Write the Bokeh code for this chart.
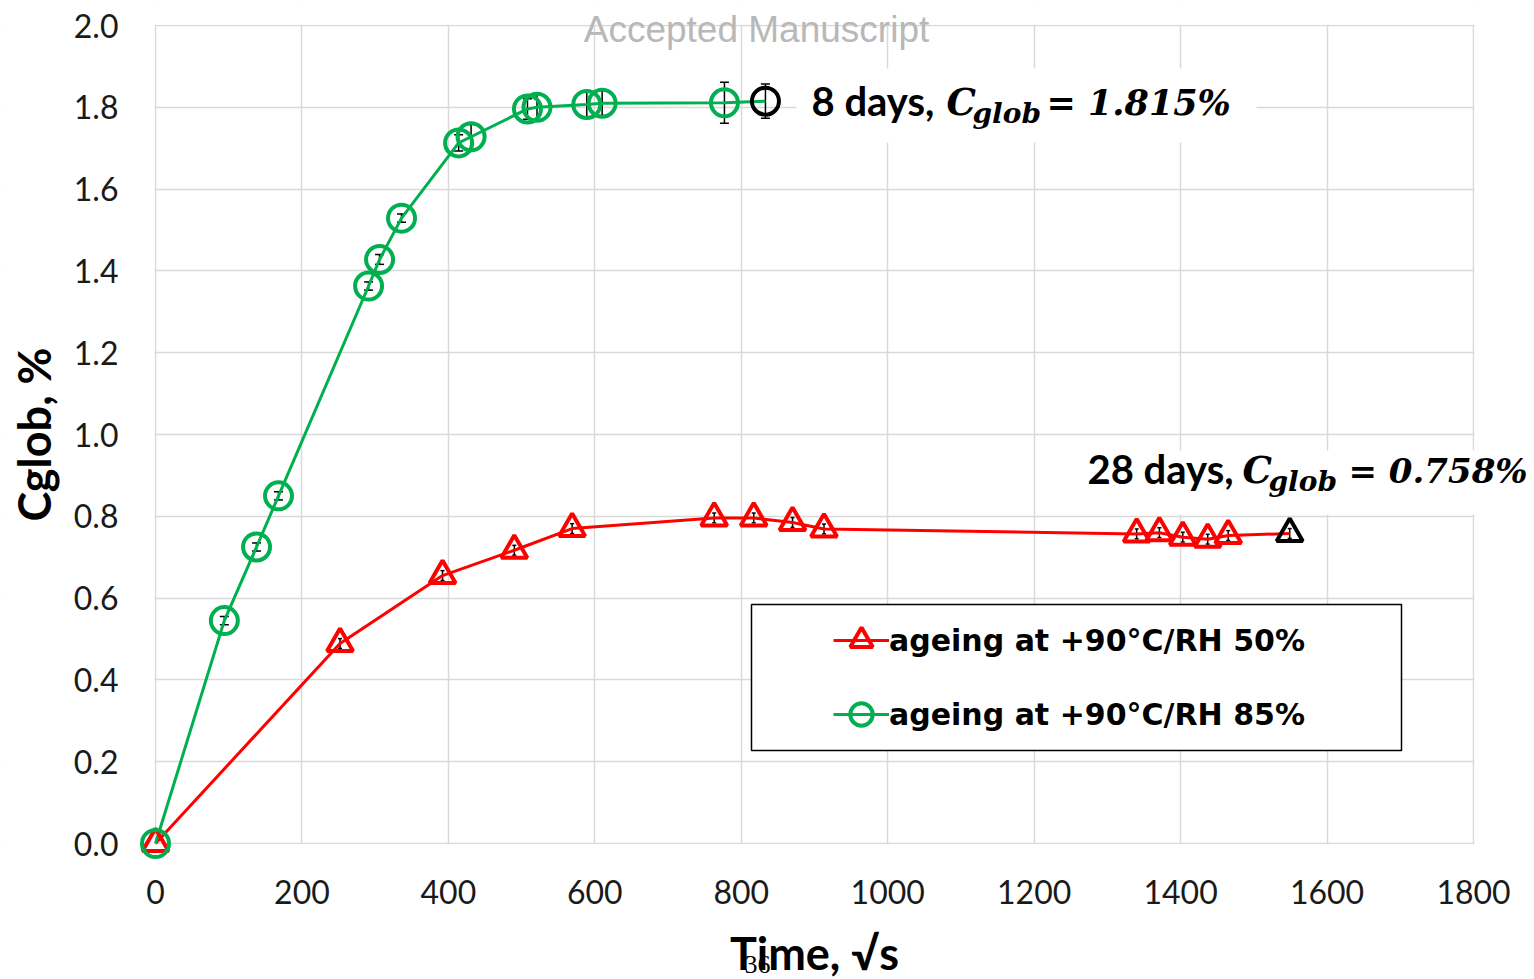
from bokeh.plotting import figure
from bokeh.models import (ColumnDataSource, Whisker, TeeHead, Legend, LegendItem,
                          Label, FixedTicker, Range1d)
from bokeh.embed import file_html
from bokeh.resources import INLINE

# ---------------- data ----------------
green_x = [0, 94, 138, 168, 291, 306, 336, 414, 431, 508, 521, 589, 610, 777]
green_y = [0.0, 0.545, 0.725, 0.850, 1.363, 1.428, 1.529, 1.713, 1.728, 1.796, 1.800, 1.807, 1.810, 1.811]
green_err = [0.0, 0.010, 0.010, 0.010, 0.010, 0.012, 0.010, 0.020, 0.030, 0.025, 0.034, 0.030, 0.030, 0.050]
green_final_x = [833]
green_final_y = [1.815]
green_final_err = [0.042]

red_x = [0, 252, 392, 490, 569, 763, 817, 870, 913, 1340, 1371, 1403, 1437, 1465]
red_y = [0.0, 0.489, 0.655, 0.717, 0.770, 0.796, 0.796, 0.785, 0.769, 0.757, 0.760, 0.749, 0.744, 0.753]
red_err = [0.0, 0.012, 0.012, 0.012, 0.012, 0.012, 0.012, 0.012, 0.012, 0.012, 0.012, 0.012, 0.012, 0.012]
red_final_x = [1549]
red_final_y = [0.758]
red_final_err = [0.012]

x_ticks = [0, 200, 400, 600, 800, 1000, 1200, 1400, 1600, 1800]
x_tick_labels = ["0", "200", "400", "600", "800", "1000", "1200", "1400", "1600", "1800"]
y_ticks = [0.0, 0.2, 0.4, 0.6, 0.8, 1.0, 1.2, 1.4, 1.6, 1.8, 2.0]
y_tick_labels = ["0.0", "0.2", "0.4", "0.6", "0.8", "1.0", "1.2", "1.4", "1.6", "1.8", "2.0"]

legend_labels = ["ageing at +90°C/RH 50%", "ageing at +90°C/RH 85%"]

# ---------------- layout ----------------
W, H = 1534, 979
FL, FR, FT, FB = 155, 1473, 25, 843      # plot area in pixels
X0, X1, Y0, Y1 = 0, 1800, 0.0, 2.0       # plot area in data units


def dx(px):
    return X0 + (px - FL) * (X1 - X0) / (FR - FL)


def dy(py):
    return Y0 + (FB - py) * (Y1 - Y0) / (FB - FT)


GREEN = "#00B050"
RED = "#FF0000"
GRID = "#d9d9d9"

# the frame covers the whole canvas; axes are drawn at fixed locations
p = figure(width=W, height=H, x_range=Range1d(dx(0), dx(W)), y_range=Range1d(dy(H), dy(0)),
           output_backend="svg", toolbar_location=None,
           min_border=0, min_border_left=0, min_border_right=0,
           min_border_top=0, min_border_bottom=0)
p.outline_line_color = None
p.background_fill_color = "white"
p.border_fill_color = "white"

for g in (p.xgrid, p.ygrid):
    g.grid_line_color = GRID
    g.grid_line_width = 1.5
p.xgrid.ticker = FixedTicker(ticks=x_ticks)
p.ygrid.ticker = FixedTicker(ticks=y_ticks)

p.xaxis.ticker = FixedTicker(ticks=x_ticks)
p.yaxis.ticker = FixedTicker(ticks=y_ticks)
p.xaxis.major_label_overrides = {t: s for t, s in zip(x_ticks, x_tick_labels)}
p.yaxis.major_label_overrides = {t: s for t, s in zip(y_ticks, y_tick_labels)}
p.xaxis.fixed_location = Y0
p.yaxis.fixed_location = X0
p.xaxis.bounds = (X0, X1)
p.yaxis.bounds = (Y0, Y1)

for ax in (p.xaxis[0], p.yaxis[0]):
    ax.axis_line_color = None
    ax.major_tick_line_color = None
    ax.minor_tick_line_color = None
    ax.major_label_text_font = "Lato"
    ax.major_label_text_font_size = "32px"
    ax.major_label_text_color = "#1a1a1a"
    ax.axis_label_text_font = "Lato"
    ax.axis_label_text_font_style = "bold"
    ax.axis_label_text_font_size = "45px"
    ax.axis_label_text_color = "black"

p.xaxis.axis_label = "Time, √s"
p.yaxis.axis_label = "Cglob, %"
p.xaxis.major_label_standoff = 30
p.xaxis.axis_label_standoff = 19
p.yaxis.major_label_standoff = 31
p.yaxis.axis_label_standoff = 10

# white masks: keep the grid inside the plot area only
e = 0.8
p.quad(left=[dx(0), dx(FR + e), dx(0), dx(0)],
       right=[dx(FL - e), dx(W), dx(W), dx(W)],
       top=[dy(0), dy(0), dy(0), dy(FB + e)],
       bottom=[dy(H), dy(H), dy(FT - e), dy(H)],
       fill_color="white", line_color=None)
# white boxes behind annotations (hide grid lines)
p.quad(left=[dx(796)], right=[dx(1256)], top=[dy(68)], bottom=[dy(142)],
       fill_color="white", line_color=None)
p.quad(left=[dx(1075)], right=[dx(W)], top=[dy(450)], bottom=[dy(514)],
       fill_color="white", line_color=None)
# legend frame
p.quad(left=[dx(751)], right=[dx(1401)], top=[dy(604)], bottom=[dy(750)],
       fill_color="white", line_color="black", line_width=1.5)

# series
red_line = p.line(red_x + red_final_x, red_y + red_final_y, line_color=RED, line_width=3)
green_line = p.line(green_x + green_final_x, green_y + green_final_y, line_color=GREEN, line_width=3)

red_pts = p.scatter(red_x, red_y, marker="triangle", size=26, line_color=RED,
                    line_width=4, fill_color=None)
green_pts = p.scatter(green_x, green_y, marker="circle", size=27, line_color=GREEN,
                      line_width=4, fill_color=None)
p.scatter(red_final_x, red_final_y, marker="triangle", size=26, line_color="black",
          line_width=4, fill_color=None)
p.scatter(green_final_x, green_final_y, marker="circle", size=27, line_color="black",
          line_width=4, fill_color=None)


def add_whisker(xs, ys, es, head):
    src = ColumnDataSource(dict(x=xs, upper=[y + e for y, e in zip(ys, es)],
                                lower=[y - e for y, e in zip(ys, es)]))
    w = Whisker(base="x", upper="upper", lower="lower", source=src, dimension="height",
                line_color="black", line_width=1.5,
                upper_head=TeeHead(size=head, line_color="black", line_width=1.5),
                lower_head=TeeHead(size=head, line_color="black", line_width=1.5))
    p.add_layout(w)


add_whisker(green_x[1:], green_y[1:], green_err[1:], 9)
add_whisker(green_final_x, green_final_y, green_final_err, 9)
add_whisker(red_x[1:], red_y[1:], red_err[1:], 4)
add_whisker(red_final_x, red_final_y, red_final_err, 4)

legend = Legend(items=[LegendItem(label=legend_labels[0], renderers=[red_line, red_pts]),
                       LegendItem(label=legend_labels[1], renderers=[green_line, green_pts])],
                location=(833, H - 742), orientation="vertical",
                glyph_width=56, glyph_height=56, label_standoff=0, spacing=18,
                padding=0, margin=0, border_line_color=None, background_fill_alpha=0,
                label_text_font="DejaVu Sans", label_text_font_style="bold",
                label_text_font_size="30px", label_text_color="black", label_height=56)
p.add_layout(legend)

K = 0.42  # baseline correction (fraction of font size)


def lab(px, py, text, font, size, style, align="left", color="black"):
    p.add_layout(Label(x=dx(px), y=dy(py - K * size), text=text, text_font=font,
                       text_font_size=f"{size}px", text_font_style=style, text_color=color,
                       text_align=align, text_baseline="alphabetic"))


# annotation: 8 days
lab(811, 117, "8 days,", "Lato", 40, "bold")
lab(946, 117, "C", "DejaVu Serif", 37, "bold italic")
lab(972, 125, "glob", "DejaVu Serif", 28, "bold italic")
lab(1046, 117, "= 1.815%", "DejaVu Serif", 35, "bold italic")
# annotation: 28 days
lab(1087, 485, "28 days,", "Lato", 40, "bold")
lab(1242, 485, "C", "DejaVu Serif", 37, "bold italic")
lab(1268, 493, "glob", "DejaVu Serif", 28, "bold italic")
lab(1348, 485, "= 0.758%", "DejaVu Serif", 34, "bold italic")

# watermark and page number
lab(756, 45, "Accepted Manuscript", "Liberation Sans", 37, "normal", "center", "#b8b8b8")
lab(757, 975, "36", "Liberation Serif", 26, "normal", "center", "black")

open("out.html", "w").write(file_html(p, INLINE))
